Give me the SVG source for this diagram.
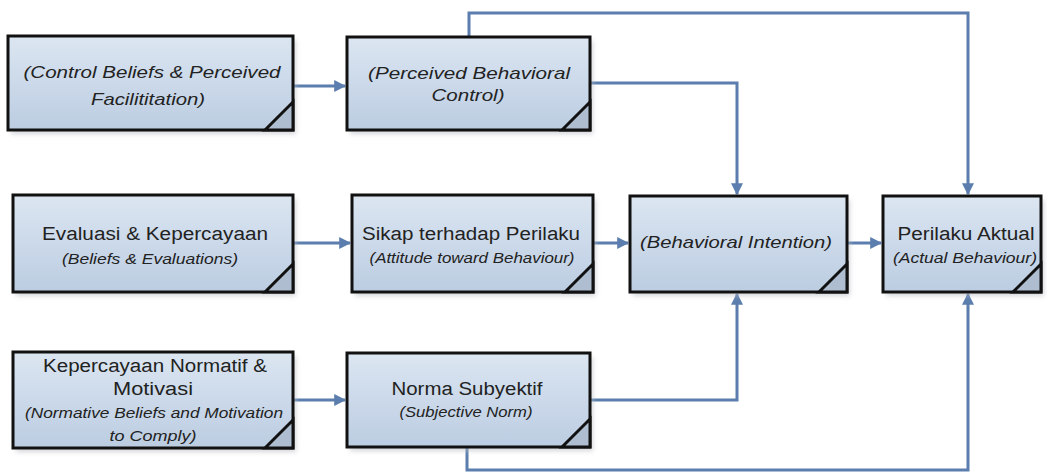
<svg xmlns="http://www.w3.org/2000/svg" width="1047" height="476" viewBox="0 0 1047 476">
<defs>
<linearGradient id="g" x1="0" y1="0" x2="0" y2="1">
<stop offset="0" stop-color="#dce6f1"/>
<stop offset="0.5" stop-color="#cbd9ea"/>
<stop offset="1" stop-color="#bccde1"/>
</linearGradient>
<filter id="sh" x="-10%" y="-10%" width="120%" height="130%">
<feGaussianBlur stdDeviation="2.5"/>
</filter>
<marker id="ah" viewBox="0 0 10 10" refX="9" refY="5" markerWidth="4" markerHeight="4" orient="auto" markerUnits="strokeWidth">
<path d="M0,0 L10,5 L0,10 z" fill="#5b7eae"/>
</marker>
<style>
.shadow{fill:#b9bcc2;opacity:0.6;filter:url(#sh)}
.box{fill:url(#g);stroke:#111;stroke-width:3}
.fold{fill:#aebdd0;stroke:#111;stroke-width:3;stroke-linejoin:miter}
.t{font-family:"Liberation Sans",Arial,sans-serif;fill:#222;text-anchor:middle;font-size:18px}
.i{font-style:italic}
.s{font-size:14px}
.m{font-size:17px}
.c{fill:none;stroke:#5b7eae;stroke-width:3;marker-end:url(#ah)}
</style>
</defs>
<rect width="1047" height="476" fill="#ffffff"/>

<g id="connectors">
<path class="c" d="M293,86 L345,86"/>
<path class="c" d="M469,37 L469,13 L968,13 L968,194"/>
<path class="c" d="M590,83 L737,83 L737,194"/>
<path class="c" d="M293,243 L350,243"/>
<path class="c" d="M593,243 L628,243"/>
<path class="c" d="M847,243 L881,243"/>
<path class="c" d="M293,400 L345,400"/>
<path class="c" d="M590,400 L737,400 L737,294"/>
<path class="c" d="M467,447 L467,470 L968,470 L968,294"/>
</g>

<g id="n1">
<rect class="shadow" x="11" y="40" width="285" height="94"/>
<rect class="box" x="8" y="36" width="285" height="94"/>
<polygon class="fold" points="265,130 293,102 293,130"/>
<text class="t i m" x="152" y="78" textLength="257" lengthAdjust="spacingAndGlyphs">(Control Beliefs &amp; Perceived</text>
<text class="t i m" x="148" y="105" textLength="114" lengthAdjust="spacingAndGlyphs">Facilititation)</text>
</g>

<g id="n2">
<rect class="shadow" x="350" y="41" width="243" height="93"/>
<rect class="box" x="347" y="37" width="243" height="93"/>
<polygon class="fold" points="562,130 590,102 590,130"/>
<text class="t i m" x="469" y="79" textLength="202" lengthAdjust="spacingAndGlyphs">(Perceived Behavioral</text>
<text class="t i m" x="468" y="101" textLength="73" lengthAdjust="spacingAndGlyphs">Control)</text>
</g>

<g id="n3">
<rect class="shadow" x="16" y="199" width="280" height="97"/>
<rect class="box" x="13" y="195" width="280" height="97"/>
<polygon class="fold" points="265,292 293,264 293,292"/>
<text class="t" x="155" y="240" textLength="226" lengthAdjust="spacingAndGlyphs">Evaluasi &amp; Kepercayaan</text>
<text class="t i s" x="150" y="264" textLength="176" lengthAdjust="spacingAndGlyphs">(Beliefs &amp; Evaluations)</text>
</g>

<g id="n4">
<rect class="shadow" x="355" y="199" width="241" height="97"/>
<rect class="box" x="352" y="195" width="241" height="97"/>
<polygon class="fold" points="565,292 593,264 593,292"/>
<text class="t" x="471" y="240" textLength="218" lengthAdjust="spacingAndGlyphs">Sikap terhadap Perilaku</text>
<text class="t i s" x="472" y="263" textLength="205" lengthAdjust="spacingAndGlyphs">(Attitude toward Behaviour)</text>
</g>

<g id="n5">
<rect class="shadow" x="633" y="200" width="217" height="96"/>
<rect class="box" x="630" y="196" width="217" height="96"/>
<polygon class="fold" points="819,292 847,264 847,292"/>
<text class="t i m" x="736" y="248" textLength="192" lengthAdjust="spacingAndGlyphs">(Behavioral Intention)</text>
</g>

<g id="n6">
<rect class="shadow" x="886" y="200" width="158" height="96"/>
<rect class="box" x="883" y="196" width="158" height="96"/>
<polygon class="fold" points="1013,292 1041,264 1041,292"/>
<text class="t" x="966" y="240" textLength="137" lengthAdjust="spacingAndGlyphs">Perilaku Aktual</text>
<text class="t i s" x="965" y="263" textLength="144" lengthAdjust="spacingAndGlyphs">(Actual Behaviour)</text>
</g>

<g id="n7">
<rect class="shadow" x="16" y="356" width="280" height="96"/>
<rect class="box" x="13" y="352" width="280" height="96"/>
<polygon class="fold" points="265,448 293,420 293,448"/>
<text class="t" x="155" y="372" textLength="224" lengthAdjust="spacingAndGlyphs">Kepercayaan Normatif &amp;</text>
<text class="t" x="153" y="395" textLength="80" lengthAdjust="spacingAndGlyphs">Motivasi</text>
<text class="t i s" x="154" y="418" textLength="258" lengthAdjust="spacingAndGlyphs">(Normative Beliefs and Motivation</text>
<text class="t i s" x="153" y="441" textLength="87" lengthAdjust="spacingAndGlyphs">to Comply)</text>
</g>

<g id="n8">
<rect class="shadow" x="350" y="357" width="243" height="94"/>
<rect class="box" x="347" y="353" width="243" height="94"/>
<polygon class="fold" points="562,447 590,419 590,447"/>
<text class="t" x="467" y="395" textLength="151" lengthAdjust="spacingAndGlyphs">Norma Subyektif</text>
<text class="t i s" x="466" y="417" textLength="133" lengthAdjust="spacingAndGlyphs">(Subjective Norm)</text>
</g>
</svg>
